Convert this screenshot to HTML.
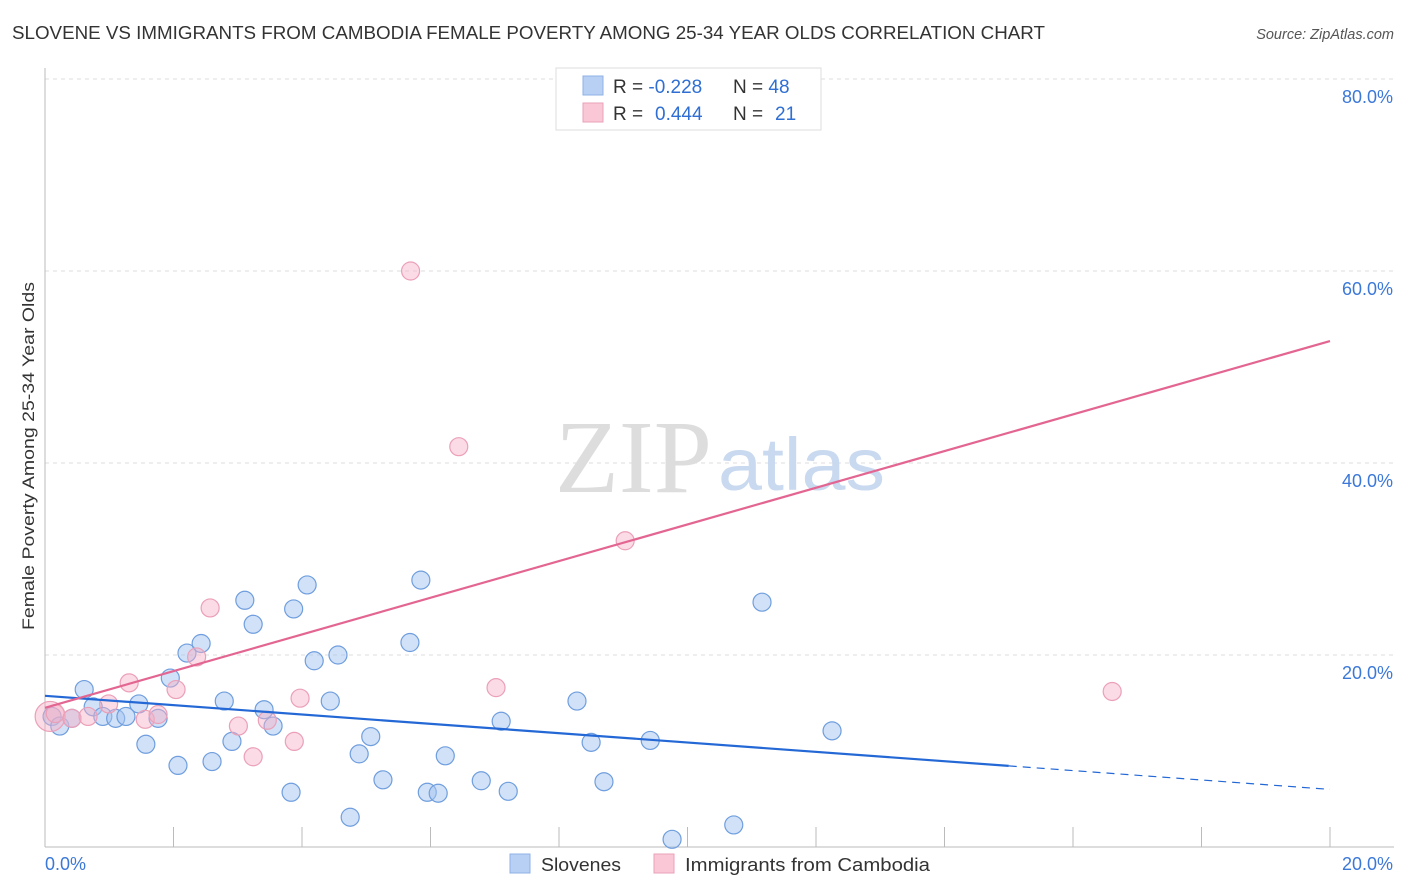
<!DOCTYPE html>
<html><head><meta charset="utf-8"><style>
body{margin:0;background:#fff;font-family:"Liberation Sans",sans-serif;}
svg{display:block}
</style></head><body>
<svg id="chart" width="1406" height="892">
<text x="12" y="39" font-size="18" fill="#333" textLength="1033" lengthAdjust="spacingAndGlyphs">SLOVENE VS IMMIGRANTS FROM CAMBODIA FEMALE POVERTY AMONG 25-34 YEAR OLDS CORRELATION CHART</text>
<text x="1394" y="39" font-size="14.5" fill="#555" font-style="italic" text-anchor="end">Source: ZipAtlas.com</text>
<text x="34" y="456" font-size="17" fill="#333" text-anchor="middle" textLength="348" lengthAdjust="spacingAndGlyphs" transform="rotate(-90 34 456)">Female Poverty Among 25-34 Year Olds</text>
<g id="grid"></g>
<text x="712" y="492" font-size="104" fill="#ddd" text-anchor="end" font-family="Liberation Serif,serif" textLength="157" lengthAdjust="spacingAndGlyphs">ZIP</text>
<text x="718" y="490" font-size="74" fill="#c9d9ef" textLength="167" lengthAdjust="spacingAndGlyphs">atlas</text>
<g id="marks"></g>
<g>
<rect x="556" y="68" width="265" height="62" fill="#fff" stroke="#ddd"/>
<rect x="583" y="76" width="20" height="19" fill="#b8d0f4" stroke="#8fb0e6"/>
<rect x="583" y="103" width="20" height="19" fill="#f9c7d6" stroke="#eaa1b8"/>
<text x="613" y="93" font-size="19" fill="#333">R = <tspan fill="#2f6fd3">-0.228</tspan><tspan x="733">N = </tspan><tspan fill="#2f6fd3">48</tspan></text>
<text x="613" y="120" font-size="19" fill="#333">R = <tspan x="655" fill="#2f6fd3">0.444</tspan><tspan x="733">N = </tspan><tspan x="775" fill="#2f6fd3">21</tspan></text>
</g>
<g>
<rect x="510" y="854" width="20" height="19" fill="#b8d0f4" stroke="#8fb0e6"/>
<text x="541" y="871" font-size="18" fill="#333" textLength="80" lengthAdjust="spacingAndGlyphs">Slovenes</text>
<rect x="654" y="854" width="20" height="19" fill="#f9c7d6" stroke="#eaa1b8"/>
<text x="685" y="871" font-size="18" fill="#333" textLength="245" lengthAdjust="spacingAndGlyphs">Immigrants from Cambodia</text>
</g>
</svg>
<script>
const yTicks=[20,40,60,80];
const xTickLabels=["0.0%","20.0%"];
const blueX=[0.11,0.23,0.42,0.61,0.75,0.90,1.10,1.26,1.46,1.57,1.76,1.95,2.07,2.21,2.43,2.60,2.79,2.91,3.11,3.24,3.41,3.55,3.83,3.87,4.08,4.19,4.44,4.56,4.75,4.89,5.07,5.26,5.68,5.85,5.95,6.12,6.23,6.79,7.10,7.21,8.28,8.50,8.70,9.42,9.76,10.72,11.16,12.25];
const blueY=[13.6,12.6,13.4,16.4,14.6,13.6,13.4,13.6,14.9,10.7,13.4,17.6,8.5,20.2,21.2,8.9,15.2,11.0,25.7,23.2,14.3,12.6,5.7,24.8,27.3,19.4,15.2,20.0,3.1,9.7,11.5,7.0,21.3,27.8,5.7,5.6,9.5,6.9,13.1,5.8,15.2,10.9,6.8,11.1,0.8,2.3,25.5,12.1];
const pinkX=[0.08,0.16,0.42,0.67,0.99,1.31,1.56,1.76,2.04,2.36,2.57,3.01,3.24,3.46,3.88,3.97,5.69,6.44,7.02,9.03,16.61];
const pinkY=[13.6,13.9,13.4,13.6,14.9,17.1,13.3,13.8,16.4,19.8,24.9,12.6,9.4,13.2,11.0,15.5,60.0,41.7,16.6,31.9,16.2];
const pinkR=[15,9,9,9,9,9,9,9,9,9,9,9,9,9,9,9,9,9,9,9,9];
const blueLine=[0,15.75,15,8.45,20,6.0];
const pinkLine=[0,14.5,20,52.7];
const X0=45,X1=1330,Y0=847,PY=9.6;
const sx=v=>X0+(X1-X0)*v/20, sy=v=>Y0-v*PY;
const NS="http://www.w3.org/2000/svg";
const grid=document.getElementById('grid'), marks=document.getElementById('marks');
function mk(tag,attrs,parent){const e=document.createElementNS(NS,tag);for(const k in attrs)e.setAttribute(k,attrs[k]);parent.appendChild(e);return e;}
yTicks.forEach(t=>{
 const l=mk('line',{x1:X0,x2:1394,y1:sy(t),y2:sy(t),stroke:'#ddd','stroke-dasharray':'4 4'},grid);
 
 
 const tx=mk('text',{x:1393,y:sy(t)+24,'font-size':18,fill:'#3b78d8','text-anchor':'end'},grid);
 tx.textContent=t.toFixed(1)+'%';
 
 
});
const ax=mk('line',{x1:X0,x2:X0,y1:68,y2:Y0,stroke:'#bbb'},grid);


const bx=mk('line',{x1:X0,x2:X1+64,y1:Y0,y2:Y0,stroke:'#bbb'},grid);


for(let i=1;i<=10;i++){const t=mk('line',{x1:sx(i*2),x2:sx(i*2),y1:Y0-20,y2:Y0,stroke:'#bbb'},grid);
 
 }
[[0,'start',45],[20,'end',1393]].forEach((d,i)=>{const t=mk('text',{x:d[2],y:870,'font-size':18,fill:'#3b78d8','text-anchor':d[1]},grid);t.textContent=xTickLabels[i];
 
 });
blueX.forEach((x,i)=>{const c=mk('circle',{cx:sx(x),cy:sy(blueY[i]),r:9,fill:'rgba(164,196,240,0.5)',stroke:'#6f9ede','stroke-width':1.2},marks);
 
 });
pinkX.forEach((x,i)=>{const c=mk('circle',{cx:sx(x),cy:sy(pinkY[i]),r:pinkR[i],fill:'rgba(246,176,198,0.45)',stroke:'#eba0b8','stroke-width':1.2},marks);
 
 });
const bl=mk('line',{x1:sx(blueLine[0]),y1:sy(blueLine[1]),x2:sx(blueLine[2]),y2:sy(blueLine[3]),stroke:'#2468d6','stroke-width':2.2},marks);


const bd=mk('line',{x1:sx(blueLine[2]),y1:sy(blueLine[3]),x2:sx(blueLine[4]),y2:sy(blueLine[5]),stroke:'#2468d6','stroke-width':1.2,'stroke-dasharray':'8 6'},marks);


const pl=mk('line',{x1:sx(pinkLine[0]),y1:sy(pinkLine[1]),x2:sx(pinkLine[2]),y2:sy(pinkLine[3]),stroke:'#e36591','stroke-width':2.2},marks);


</script>
</body></html>
